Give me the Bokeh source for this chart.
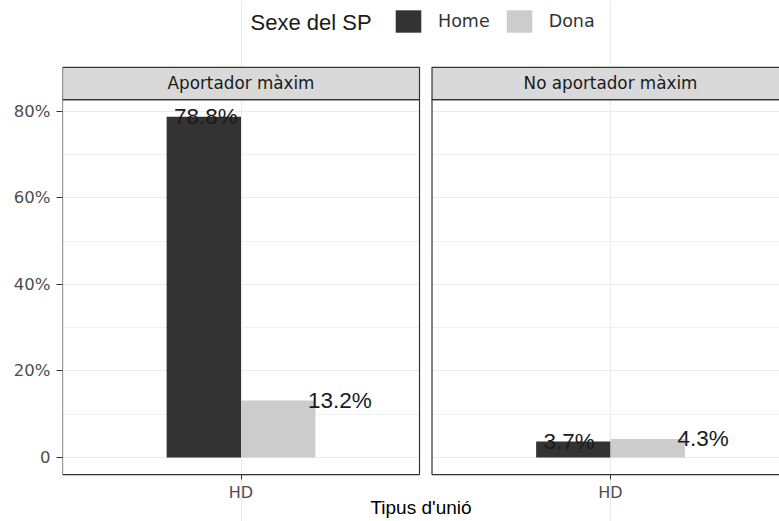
from bokeh.plotting import figure
from bokeh.models import (Range1d, FixedTicker, Legend, LegendItem, Label,
                          ColumnDataSource)
from bokeh.core.properties import value
from bokeh.embed import file_html
from bokeh.resources import INLINE

# ---------------- data ----------------
panels = ["Aportador màxim", "No aportador màxim"]
category = "HD"
sexes = ["Home", "Dona"]
home_pct = [78.8, 3.7]
dona_pct = [13.2, 4.3]
home_labels = ["78.8%", "3.7%"]
dona_labels = ["13.2%", "4.3%"]
y_ticks = [0, 20, 40, 60, 80]
y_tick_labels = ["0", "20%", "40%", "60%", "80%"]
y_minor_ticks = [10, 30, 50, 70]
legend_title = "Sexe del SP"
x_title = "Tipus d'unió"
fill_colors = ["#333333", "#CCCCCC"]

# ---------------- layout constants ----------------
PANEL_W = 1.2        # one discrete category, 0.6 expansion each side
GAP = 0.042          # space between facet panels (x units)
BAR_W = 0.25
TXT_DODGE = 0.225
ymax = max(home_pct + dona_pct)
Y_LO = -0.05 * ymax
Y_PANEL = 1.05 * ymax
STRIP_TOP = 90.2
Y_HI = 105.66
Y_BOTTOM = -14.8     # room below the panels for the x axis (drawn inside)
X_HI = 2.81

centers = [1.0 + i * (PANEL_W + GAP) for i in range(len(panels))]
x_lo = centers[0] - PANEL_W / 2

DEJAVU = "DejaVu Sans"
ARIAL = "Liberation Sans"

p = figure(width=779, height=521, output_backend="svg", toolbar_location=None,
           x_range=Range1d(x_lo, X_HI), y_range=Range1d(Y_BOTTOM, Y_HI),
           min_border=0)
p.min_border_left = 62
p.min_border_right = 0
p.min_border_top = 0
p.min_border_bottom = 0
p.outline_line_color = None
p.background_fill_color = "white"

# gap between panels (white, hides grid lines)
p.quad(left=[centers[0] + PANEL_W / 2], right=[centers[1] - PANEL_W / 2],
       bottom=[Y_LO], top=[STRIP_TOP], fill_color="white", line_color=None)

# bars
src_home = ColumnDataSource(dict(x=[c - BAR_W / 2 for c in centers], top=home_pct))
src_dona = ColumnDataSource(dict(x=[c + BAR_W / 2 for c in centers], top=dona_pct))
r_home = p.vbar(x="x", top="top", bottom=0, width=BAR_W, source=src_home,
                fill_color=fill_colors[0], line_color=None)
r_dona = p.vbar(x="x", top="top", bottom=0, width=BAR_W, source=src_dona,
                fill_color=fill_colors[1], line_color=None)

# panel borders
p.quad(left=[c - PANEL_W / 2 for c in centers], right=[c + PANEL_W / 2 for c in centers],
       bottom=[Y_LO] * len(centers), top=[Y_PANEL] * len(centers),
       fill_color=None, line_color="#333333", line_width=1.2)

# strips
p.quad(left=[c - PANEL_W / 2 for c in centers], right=[c + PANEL_W / 2 for c in centers],
       bottom=[Y_PANEL] * len(centers), top=[STRIP_TOP] * len(centers),
       fill_color="#D9D9D9", line_color="#333333", line_width=1.2)
p.text(x=centers, y=[(Y_PANEL + STRIP_TOP) / 2] * len(centers), text=panels,
       text_align="center", text_baseline="middle",
       text_font=value(DEJAVU), text_font_size="16.8px", text_color="#1A1A1A")

# value labels (dodged 0.9, left aligned)
p.text(x=[c - TXT_DODGE for c in centers], y=home_pct, text=home_labels,
       text_align="left", text_baseline="alphabetic",
       text_font=value(ARIAL), text_font_size="22.5px", text_color="#1A1A1A")
p.text(x=[c + TXT_DODGE for c in centers], y=dona_pct, text=dona_labels,
       text_align="left", text_baseline="alphabetic",
       text_font=value(ARIAL), text_font_size="22.5px", text_color="#1A1A1A")

# axes
p.yaxis.ticker = FixedTicker(ticks=y_ticks, minor_ticks=y_minor_ticks)
p.yaxis.major_label_overrides = {t: l for t, l in zip(y_ticks, y_tick_labels)}
p.yaxis.axis_line_color = None
p.yaxis.major_tick_line_color = "#333333"
p.yaxis.major_tick_out = 6
p.yaxis.major_tick_in = 0
p.yaxis.minor_tick_line_color = None
p.yaxis.major_label_standoff = 6
p.yaxis.major_label_text_font = DEJAVU
p.yaxis.major_label_text_font_size = "16.5px"
p.yaxis.major_label_text_color = "#4D4D4D"

p.xaxis.fixed_location = Y_LO
p.xaxis.ticker = FixedTicker(ticks=centers)
p.xaxis.major_label_overrides = {c: category for c in centers}
p.xaxis.axis_line_color = None
p.xaxis.major_tick_line_color = "#333333"
p.xaxis.major_tick_out = 5
p.xaxis.major_tick_in = 0
p.xaxis.minor_tick_line_color = None
p.xaxis.major_label_standoff = 3
p.xaxis.major_label_text_font = DEJAVU
p.xaxis.major_label_text_font_size = "16px"
p.xaxis.major_label_text_color = "#4D4D4D"
p.xaxis.axis_label = x_title
p.xaxis.axis_label_standoff = -8
p.xaxis.axis_label_text_font = ARIAL
p.xaxis.axis_label_text_font_size = "19px"
p.xaxis.axis_label_text_font_style = "normal"
p.xaxis.axis_label_text_color = "#000000"

# grids
p.xgrid.grid_line_color = "#EBEBEB"
p.xgrid.bounds = (Y_LO, Y_PANEL)
p.ygrid.grid_line_color = "#EBEBEB"
p.ygrid.minor_grid_line_color = "#EFEFEF"

# legend
legend = Legend(items=[LegendItem(label=sexes[0], renderers=[r_home]),
                       LegendItem(label=sexes[1], renderers=[r_dona])],
                orientation="horizontal", location=(330, 486),
                glyph_width=32, glyph_height=28, label_standoff=14, spacing=13,
                padding=0, margin=0, border_line_color=None,
                background_fill_alpha=0,
                label_text_font=DEJAVU, label_text_font_size="17.5px",
                label_text_color="#333333", label_text_baseline="middle")
p.add_layout(legend)
p.add_layout(Label(x=188, y=499, x_units="screen", y_units="screen",
                   text=legend_title, text_baseline="middle",
                   text_font=ARIAL, text_font_size="22px", text_color="#1A1A1A"))

open("out.html", "w").write(file_html(p, INLINE))
